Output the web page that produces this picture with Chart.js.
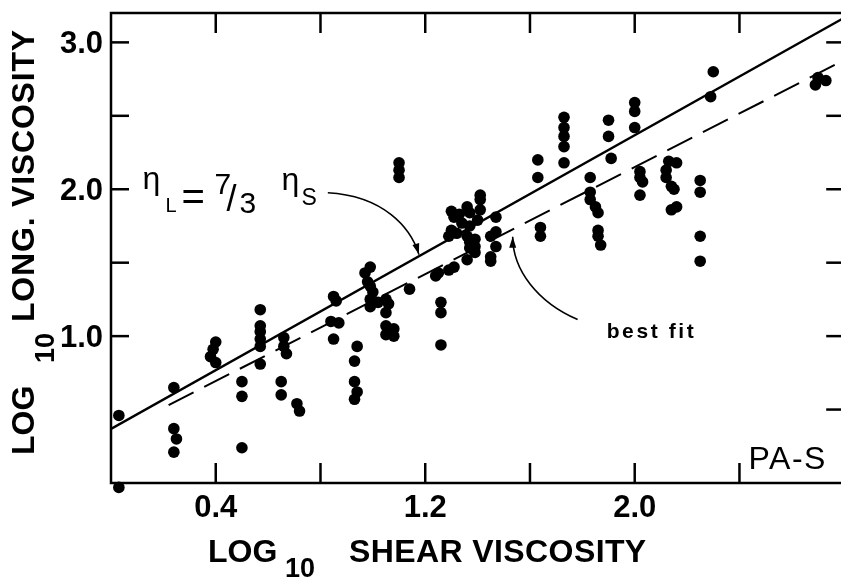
<!DOCTYPE html>
<html>
<head>
<meta charset="utf-8">
<script src="https://cdn.jsdelivr.net/npm/chart.js@4.4.1/dist/chart.umd.min.js"></script>
<style>
  html, body { margin: 0; padding: 0; background: #fff; overflow: hidden; }
  #wrap { width: 850px; height: 577px; }
</style>
</head>
<body>
<div id="wrap"><canvas id="visc" width="850" height="577"></canvas></div>
<script>
// PA-S: log10 shear viscosity against log10 longitudinal viscosity
const shearLog = [
  0.03, 0.03,
  0.24, 0.24, 0.25, 0.24,
  0.50, 0.50, 0.50,
  0.40, 0.39, 0.38, 0.40,
  0.57, 0.57, 0.57, 0.57, 0.57, 0.57,
  0.66, 0.66, 0.67, 0.65, 0.65,
  0.71, 0.72,
  0.85, 0.86, 0.84, 0.87, 0.85,
  0.94, 0.93, 0.93, 0.94, 0.93,
  0.99, 0.97, 0.98, 0.99, 1.00, 0.99, 0.99,
  1.02, 1.05, 1.06, 1.05,
  1.05, 1.08, 1.05, 1.08,
  1.10, 1.10, 1.10,
  1.14,
  1.24, 1.25, 1.29, 1.31,
  1.26, 1.26, 1.26,
  1.30, 1.31, 1.30, 1.29,
  1.33, 1.34, 1.32,
  1.36, 1.37, 1.37, 1.36, 1.37, 1.37,
  1.41, 1.41, 1.41, 1.40, 1.39, 1.39, 1.39,
  1.36,
  1.47, 1.47, 1.45, 1.47, 1.45, 1.45,
  1.64, 1.64, 1.63, 1.63,
  1.73, 1.73, 1.73, 1.73, 1.73,
  1.90, 1.90, 1.91,
  2.00, 2.00, 2.00,
  2.30, 2.29,
  2.70, 2.73, 2.69,
  1.83, 1.83, 1.83, 1.85, 1.86, 1.86, 1.86, 1.87,
  2.02, 2.02, 2.03, 2.02,
  2.13, 2.16, 2.12, 2.12, 2.14, 2.15, 2.14, 2.16,
  2.25, 2.25, 2.25, 2.25
];
const longLog = [
  0.46, -0.03,
  0.65, 0.37, 0.30, 0.21,
  0.24, 0.69, 0.59,
  0.96, 0.91, 0.86, 0.82,
  1.18, 1.07, 1.03, 0.98, 0.93, 0.81,
  0.99, 0.93, 0.88, 0.69, 0.60,
  0.54, 0.49,
  1.27, 1.24, 1.10, 1.09, 0.98,
  0.93, 0.83, 0.69, 0.62, 0.57,
  1.47, 1.43, 1.37, 1.34, 1.30, 1.25, 1.20,
  1.23, 1.25, 1.22, 1.16,
  1.07, 1.05, 1.01, 1.00,
  2.18, 2.13, 2.08,
  1.32,
  1.41, 1.43, 1.45, 1.47,
  1.23, 1.16, 0.94,
  1.85, 1.81, 1.72, 1.68,
  1.83, 1.77, 1.70,
  1.88, 1.84, 1.75, 1.68, 1.64, 1.60,
  1.96, 1.93, 1.86, 1.79, 1.66, 1.61, 1.57,
  1.52,
  1.81, 1.71, 1.68, 1.61, 1.54, 1.51,
  1.74, 1.68, 2.20, 2.08,
  2.49, 2.42, 2.36, 2.29, 2.18,
  2.47, 2.36, 2.21,
  2.59, 2.53, 2.42,
  2.80, 2.63,
  2.76, 2.74, 2.71,
  2.08, 1.98, 1.93, 1.88, 1.84, 1.72, 1.68, 1.62,
  2.12, 2.08, 2.05, 1.96,
  2.19, 2.18, 2.13, 2.08, 2.02, 2.00, 1.86, 1.88,
  2.06, 1.98, 1.68, 1.51
];

// eta_L = 7/3 eta_S  ->  log eta_L = log eta_S + log(7/3)
const viscRatio = 7 / 3;
const ratioLineX = [0, 2.8];
// least-squares line as drawn
const fitLineX = [0.22, 2.8];
const fitLineY = [0.53, 2.88];

const xTickValues = [0.4, 0.8, 1.2, 1.6, 2.0, 2.4];
const xLabelValues = [0.4, 1.2, 2.0];
const yTickValues = [1.0, 1.5, 2.0, 2.5, 3.0];
const yRightTickValues = [0.5, 1.0, 1.5, 2.0, 2.5, 3.0];
const yLabelValues = [1.0, 2.0, 3.0];

const FONT = '"Liberation Sans", Arial, Helvetica, sans-serif';

function drawText(ctx, str, x, y, size, weight, spacing) {
  ctx.font = `${weight || 'normal'} ${size}px ${FONT}`;
  ctx.letterSpacing = (spacing || 0) + 'px';
  ctx.fillText(str, x, y);
}

function arrowCurve(ctx, pts) {
  const [p0, p1, p2, p3] = pts;
  ctx.beginPath();
  ctx.moveTo(p0.x, p0.y);
  ctx.bezierCurveTo(p1.x, p1.y, p2.x, p2.y, p3.x, p3.y);
  ctx.stroke();
  const ang = Math.atan2(p3.y - p2.y, p3.x - p2.x);
  const len = 11, half = 3.5;
  ctx.beginPath();
  ctx.moveTo(p3.x, p3.y);
  ctx.lineTo(p3.x - len * Math.cos(ang) + half * Math.sin(ang), p3.y - len * Math.sin(ang) - half * Math.cos(ang));
  ctx.lineTo(p3.x - len * Math.cos(ang) - half * Math.sin(ang), p3.y - len * Math.sin(ang) + half * Math.cos(ang));
  ctx.closePath();
  ctx.fill();
}

// annotation anchors, in data units
const ratioArrow = [[0.828, 1.976], [1.04, 1.955], [1.145, 1.74], [1.176, 1.555]];
const fitArrow = [[1.782, 1.113], [1.63, 1.229], [1.534, 1.45], [1.534, 1.677]];
const ratioLabelAt = [0.12, 2.0];
const fitLabelAt = [1.893, 0.99];
const sampleLabelAt = [2.435, 0.095];

const frameAndNotes = {
  id: 'frameAndNotes',
  afterDatasetsDraw(chart) {
    const { ctx, chartArea: a, scales: { x, y } } = chart;
    const px = v => x.getPixelForValue(v);
    const py = v => y.getPixelForValue(v);
    const seg = (x1, y1, x2, y2) => { ctx.beginPath(); ctx.moveTo(x1, y1); ctx.lineTo(x2, y2); ctx.stroke(); };

    ctx.save();
    ctx.strokeStyle = '#000';
    ctx.fillStyle = '#000';
    ctx.lineWidth = 2.5;
    ctx.lineCap = 'butt';
    ctx.strokeRect(a.left, a.top, a.right - a.left, a.bottom - a.top);

    // inward tick marks on all four sides
    xTickValues.forEach(v => {
      seg(px(v), a.bottom, px(v), a.bottom - 20);
      seg(px(v), a.top, px(v), a.top + 20);
    });
    yTickValues.forEach(v => seg(a.left, py(v), a.left + 18, py(v)));
    yRightTickValues.forEach(v => seg(a.right, py(v), a.right - 18, py(v)));

    // tick labels
    ctx.textBaseline = 'alphabetic';
    ctx.textAlign = 'center';
    xLabelValues.forEach(v => drawText(ctx, v.toFixed(1), px(v), a.bottom + 34, 31, 'bold'));
    ctx.textAlign = 'right';
    yLabelValues.forEach(v => drawText(ctx, v.toFixed(1), a.left - 8, py(v) + 11, 31, 'bold'));

    // x axis title
    ctx.textAlign = 'left';
    drawText(ctx, 'LOG', 208, a.bottom + 79, 32, 'bold');
    drawText(ctx, '10', 285, a.bottom + 94, 27, 'bold');
    drawText(ctx, 'SHEAR VISCOSITY', 349, a.bottom + 79, 32, 'bold', 0.4);

    // y axis title, reading upward
    ctx.save();
    ctx.rotate(-Math.PI / 2);
    drawText(ctx, 'LOG', -455, 34, 32, 'bold');
    drawText(ctx, '10', -363, 54, 27, 'bold');
    drawText(ctx, 'LONG. VISCOSITY', -322, 34, 32, 'bold', 0.8);
    ctx.restore();

    // eta_L = 7/3 eta_S label
    const lx = px(ratioLabelAt[0]), ly = py(ratioLabelAt[1]);
    drawText(ctx, 'η', lx, ly, 32, 'normal');
    drawText(ctx, 'L', lx + 23, ly + 23, 20, 'normal');
    drawText(ctx, '=', lx + 39, ly + 21, 40, 'normal');
    drawText(ctx, '7', lx + 72, ly + 5, 30, 'normal');
    drawText(ctx, '/', lx + 84, ly + 22, 36, 'normal');
    drawText(ctx, '3', lx + 97, ly + 24, 30, 'normal');
    drawText(ctx, 'η', lx + 139, ly + 1, 32, 'normal');
    drawText(ctx, 'S', lx + 159, ly + 16, 23, 'normal');

    drawText(ctx, 'best fit', px(fitLabelAt[0]), py(fitLabelAt[1]), 21, 'bold', 2.6);
    drawText(ctx, 'PA-S', px(sampleLabelAt[0]), py(sampleLabelAt[1]), 32, 'normal', 1.5);

    ctx.lineWidth = 1.6;
    const toPx = p => ({ x: px(p[0]), y: py(p[1]) });
    arrowCurve(ctx, ratioArrow.map(toPx));
    arrowCurve(ctx, fitArrow.map(toPx));
    ctx.restore();
  }
};

new Chart(document.getElementById('visc'), {
  type: 'scatter',
  data: {
    datasets: [
      {
        label: 'PA-S',
        data: shearLog.map((v, i) => ({ x: v, y: longLog[i] })),
        backgroundColor: '#000',
        borderWidth: 0,
        pointRadius: 5.8,
        clip: false
      },
      {
        label: 'ηL = 7/3 ηS',
        data: ratioLineX.map(v => ({ x: v, y: v + Math.log10(viscRatio) })),
        showLine: true,
        borderColor: '#000',
        borderWidth: 2.4,
        pointRadius: 0
      },
      {
        label: 'best fit',
        data: fitLineX.map((v, i) => ({ x: v, y: fitLineY[i] })),
        showLine: true,
        borderColor: '#000',
        borderWidth: 2,
        borderDash: [28, 12],
        pointRadius: 0
      }
    ]
  },
  options: {
    responsive: false,
    animation: false,
    layout: { padding: { left: 111, right: 4, top: 13, bottom: 94 } },
    plugins: { legend: { display: false }, tooltip: { enabled: false } },
    scales: {
      x: { type: 'linear', min: 0, max: 2.8, display: false },
      y: { type: 'linear', min: 0, max: 3.2, display: false }
    }
  },
  plugins: [frameAndNotes]
});
</script>
</body>
</html>
